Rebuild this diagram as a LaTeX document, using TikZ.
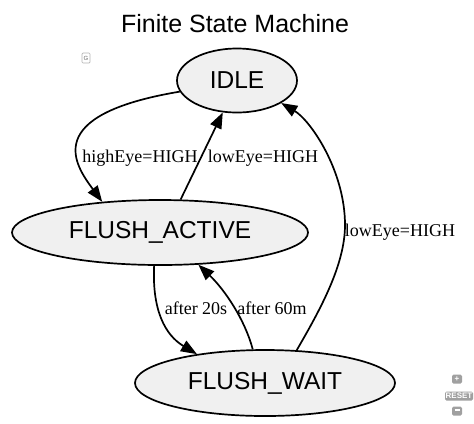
\documentclass[tikz,border=0pt]{standalone}
\usepackage{fontspec}
\setmainfont{Liberation Serif}
\newfontfamily\arialf{Liberation Sans}
\usetikzlibrary{shapes.geometric,arrows.meta}
\definecolor{nodefill}{RGB}{240,240,240}
\definecolor{uigray}{RGB}{160,160,160}
\begin{document}
\begin{tikzpicture}[x=1bp,y=-1bp,
  state/.style={ellipse,draw,line width=1.7bp,fill=nodefill,inner sep=0pt,
    font=\arialf\fontsize{24.5bp}{28bp}\selectfont},
  edge/.style={line width=1.7bp,-{Triangle[length=16bp,width=12bp]}},
  elabel/.style={inner sep=1bp,font=\fontsize{18bp}{21bp}\selectfont},
  uibox/.style={fill=uigray,rounded corners=1.5bp,inner sep=0pt,text=white,
    font=\arialf\bfseries\fontsize{8bp}{9bp}\selectfont}]
\useasboundingbox (0,0) rectangle (474,423);
\node[font=\arialf\fontsize{25bp}{29bp}\selectfont] (title) at (235,24) {Finite State Machine};
\node[state,minimum width=120bp,minimum height=64bp] (idle) at (237,80.5) {IDLE};
\node[state,minimum width=296bp,minimum height=65bp] (fa) at (160,232.5) {FLUSH\_ACTIVE};
\node[state,minimum width=260bp,minimum height=66bp] (fw) at (265,383) {FLUSH\_WAIT};
% edges
\draw[edge] (idle.191) .. controls (40,115) and (75,165) .. (fa.152);
\draw[edge] (fa.58) -- (idle.246);
\coordinate (rc) at (345,225);
\draw[line width=1.7bp] (fw.46) .. controls (320,310) and (345,265) .. (rc);
\draw[edge] (rc) .. controls (345,170) and (310,120) .. (idle.333);
\draw[edge] (fa.260) .. controls (152,310) and (165,335) .. (fw.157);
\draw[edge] (fw.110) .. controls (245,320) and (225,290) .. (fa.320);
% labels
\node[elabel] (l1) at (140,158) {highEye=HIGH};
\node[elabel] (l2) at (263,158) {lowEye=HIGH};
\node[elabel] (l3) at (400,232) {lowEye=HIGH};
\node[elabel] (l4) at (196,308) {after 20s};
\node[elabel] (l5) at (272,308) {after 60m};
% UI widgets
\node[draw=uigray!80,rounded corners=1bp,line width=0.7bp,minimum width=8bp,minimum height=10bp,inner sep=0pt,
  text=black!60,font=\arialf\fontsize{6bp}{7bp}\selectfont] (gicon) at (86,58) {G};
\node[uibox,minimum width=10bp,minimum height=9bp] (plus) at (457,379) {+};
\node[uibox,minimum width=28bp,minimum height=9bp] (reset) at (459,396) {RESET};
\node[uibox,minimum width=10bp,minimum height=9bp] (minus) at (457,411) {\rule[0.5ex]{5bp}{1.5bp}};
\end{tikzpicture}
\end{document}
